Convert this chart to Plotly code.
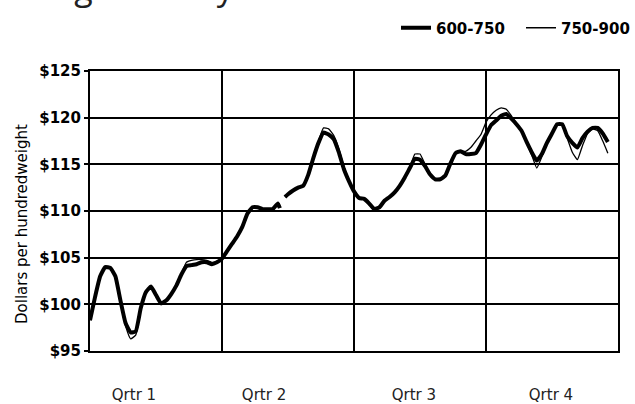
import plotly.graph_objects as go

# week-of-year positions (0 = start of Qrtr 1, 52 = end of Qrtr 4)
weeks = [0, 0.5, 1, 1.5, 2, 2.5, 3, 3.5, 4, 4.5, 5, 5.5, 6, 6.5, 7, 7.5, 8, 8.5, 9, 9.5, 10, 10.5, 11, 11.5, 12, 12.5,
         13, 13.5, 14, 14.5, 15, 15.5, 16, 16.5, 17, 17.5, 18, 18.5, 18.7, 18.95, 19.2, 19.5, 20, 20.5, 21, 21.5, 22, 22.5, 23, 23.5, 24, 24.5, 25, 25.5,
         26, 26.5, 27, 27.5, 28, 28.5, 29, 29.5, 30, 30.5, 31, 31.5, 32, 32.5, 33, 33.5, 34, 34.5, 35, 35.5, 36, 36.5, 37, 37.5, 38, 38.5,
         39, 39.5, 40, 40.5, 41, 41.5, 42, 42.5, 43, 43.5, 44, 44.5, 45, 45.5, 46, 46.5, 47, 47.5, 48, 48.5, 49, 49.5, 50, 50.5, 51]

price_600_750 = [98.3, 100.8, 103.0, 104.0, 103.9, 103.0, 100.4, 98.0, 97.0, 97.1, 99.6, 101.3, 101.9, 101.0, 100.1, 100.4, 101.1, 102.0, 103.2, 104.1, 104.2, 104.3, 104.5, 104.5, 104.3, 104.5,
                 104.9, 105.7, 106.5, 107.3, 108.3, 109.7, 110.4, 110.4, 110.2, 110.2, 110.2, 110.8, 110.3, None, 111.5, 111.8, 112.2, 112.5, 112.7, 113.9, 115.7, 117.3, 118.4, 118.2, 117.7, 116.3, 114.5, 113.2,
                 112.1, 111.4, 111.3, 110.8, 110.2, 110.4, 111.1, 111.5, 112.0, 112.7, 113.6, 114.6, 115.6, 115.5, 114.8, 113.9, 113.4, 113.4, 113.8, 115.1, 116.2, 116.4, 116.1, 116.1, 116.2, 117.1,
                 118.2, 119.2, 119.7, 120.2, 120.4, 119.9, 119.3, 118.6, 117.4, 116.3, 115.4, 116.1, 117.3, 118.3, 119.3, 119.3, 118.0, 117.3, 116.8, 117.8, 118.5, 118.9, 118.9, 118.3, 117.4]

price_750_900 = [98.3, 100.8, 103.0, 104.0, 103.9, 103.0, 100.2, 97.7, 96.3, 96.7, 99.4, 101.3, 101.9, 101.0, 100.1, 100.4, 101.1, 102.0, 103.3, 104.5, 104.7, 104.8, 104.8, 104.7, 104.5, 104.6,
                 104.9, 105.7, 106.5, 107.3, 108.3, 109.7, 110.4, 110.4, 110.2, 110.2, 110.2, 110.7, 110.8, None, 111.5, 111.8, 112.2, 112.5, 112.7, 113.9, 115.8, 117.5, 118.9, 118.8, 118.1, 116.7, 114.8, 113.3,
                 112.1, 111.4, 111.3, 110.7, 110.0, 110.4, 111.1, 111.5, 112.0, 112.7, 113.6, 114.7, 116.1, 116.1, 115.0, 113.9, 113.4, 113.4, 113.8, 115.1, 116.2, 116.4, 116.4, 116.8, 117.5, 118.2,
                 119.5, 120.3, 120.8, 121.05, 120.9, 120.2, 119.4, 118.6, 117.3, 116.0, 114.6, 115.8, 117.2, 118.3, 119.3, 119.3, 117.8, 116.3, 115.5, 117.0, 118.3, 118.8, 118.6, 117.5, 116.2]

quarter_labels = ["Qrtr 1", "Qrtr 2", "Qrtr 3", "Qrtr 4"]
quarter_label_pos = [4.33, 17.14, 31.9, 45.4]
quarter_bounds = [13, 26, 39]
series_names = ["600-750", "750-900"]
y_title = "Dollars per hundredweight"

PL, PR, PT, PB = 90, 618, 71, 351  # plot area edges in pixels
PW, PH = PR - PL, PB - PT

fig = go.Figure()
fig.add_trace(go.Scatter(x=weeks, y=price_600_750, name=series_names[0], mode="lines", legend="legend",
                         line=dict(color="black", width=4, shape="spline", smoothing=0.4)))
fig.add_trace(go.Scatter(x=weeks, y=price_750_900, name=series_names[1], mode="lines", legend="legend2",
                         line=dict(color="black", width=1.3, shape="spline", smoothing=0.4)))

legend_font = dict(family="DejaVu Sans", size=15, color="black", weight="bold")
fig.update_layout(
    template="none",
    width=635, height=404,
    margin=dict(l=PL, r=635 - PR, t=PT, b=404 - PB, autoexpand=False),
    paper_bgcolor="white", plot_bgcolor="white",
    showlegend=True,
    legend=dict(orientation="h", xref="paper", yref="paper", x=(396 - PL) / PW, xanchor="left",
                y=(PB - 28) / PH, yanchor="middle", font=legend_font,
                bgcolor="rgba(0,0,0,0)", borderwidth=0),
    legend2=dict(orientation="h", xref="paper", yref="paper", x=(521 - PL) / PW, xanchor="left",
                 y=(PB - 28) / PH, yanchor="middle", font=legend_font,
                 bgcolor="rgba(0,0,0,0)", borderwidth=0),
    xaxis=dict(range=[0, 52], showgrid=False, zeroline=False, automargin=False,
               showline=True, linecolor="black", linewidth=2, mirror=True,
               tickmode="array", tickvals=quarter_label_pos, ticktext=quarter_labels, ticks="",
               ticklabelstandoff=29,
               tickfont=dict(family="DejaVu Sans", size=15, color="#222"),
               minor=dict(tickvals=quarter_bounds, showgrid=True, gridcolor="black", gridwidth=2, ticks="")),
    yaxis=dict(range=[95, 125], dtick=5, tick0=95, tickprefix="$", automargin=False,
               showgrid=True, gridcolor="black", gridwidth=2, zeroline=False,
               showline=True, linecolor="black", linewidth=2, mirror=True,
               ticks="outside", ticklen=4, tickwidth=2, tickcolor="black",
               tickfont=dict(family="DejaVu Sans", size=15, color="black", weight="bold")),
)

# y-axis title placed as in the reference (slightly below the plot's middle)
fig.add_annotation(text=y_title, textangle=-90, xref="paper", yref="paper",
                   x=(22 - PL) / PW, y=(PB - 224) / PH, xanchor="center", yanchor="middle",
                   showarrow=False, font=dict(family="DejaVu Sans", size=15, color="black"))

# partially visible chart title cut off at the top edge
fig.add_annotation(text="Average Weekly", xref="paper", yref="paper", x=-0.205, xanchor="left",
                   y=(PB - 12) / PH, yanchor="bottom", showarrow=False,
                   font=dict(family="Open Sans", size=34, color="#222"))

fig.write_html("out.html", config={"displayModeBar": False},
               post_script="document.body.style.margin='0px';")
